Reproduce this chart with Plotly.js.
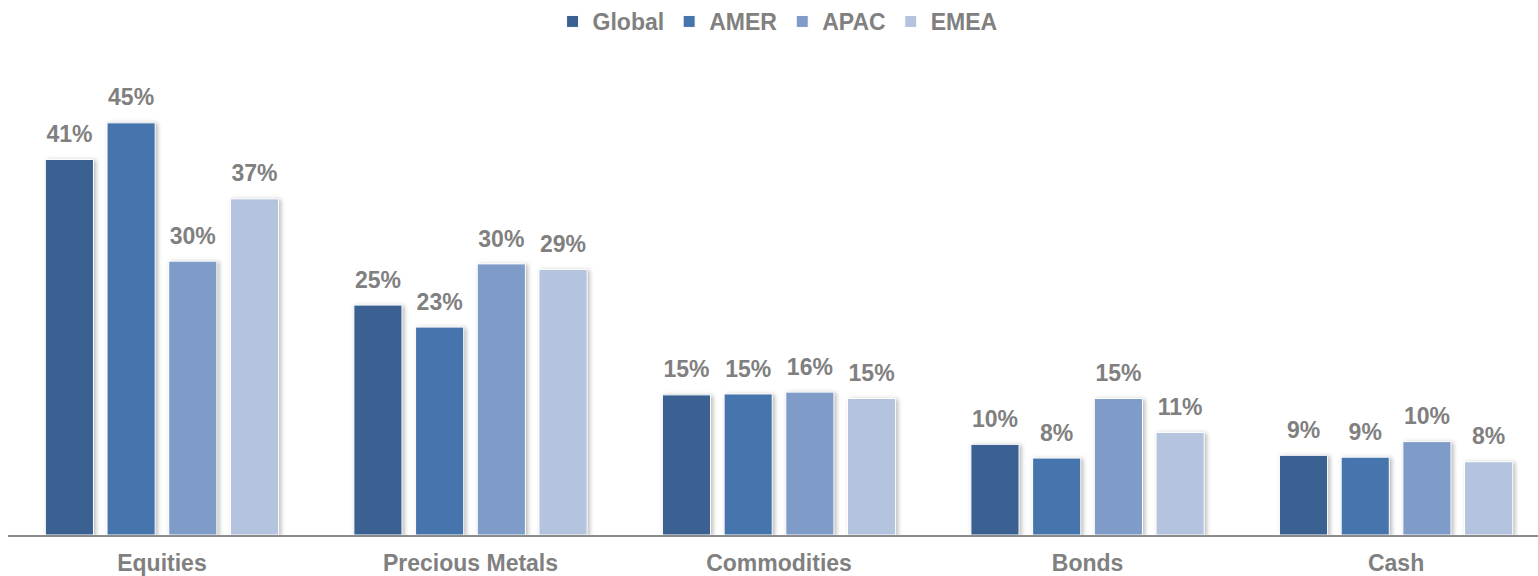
<!DOCTYPE html>
<html>
<head>
<meta charset="utf-8">
<script src="https://cdn.plot.ly/plotly-3.0.1.min.js"></script>
<style>
  html, body { margin: 0; padding: 0; background: #ffffff; }
  #chart { width: 1538px; height: 576px; }
  .barlayer .point path { filter: drop-shadow(2px 1px 2px rgba(0,0,0,0.28)); }
</style>
</head>
<body>
<div id="chart"></div>
<script>
// ---- data ----
const categories = ['Equities', 'Precious Metals', 'Commodities', 'Bonds', 'Cash'];
const seriesNames = ['Global', 'AMER', 'APAC', 'EMEA'];
const globalVals = [41.0, 25.1, 15.3, 9.9, 8.7];
const amerVals   = [45.0, 22.7, 15.4, 8.4, 8.5];
const apacVals   = [29.9, 29.6, 15.6, 14.9, 10.2];
const emeaVals   = [36.7, 29.0, 14.9, 11.2, 8.0];
const seriesValues = [globalVals, amerVals, apacVals, emeaVals];

// ---- style ----
const colors = ['#3a6192', '#4675ae', '#7f9cc8', '#b4c3de'];
const fontFamily = 'Liberation Sans, Arial, sans-serif';
const gray = '#808080';
const fsize = 23;

const traces = [];
seriesNames.forEach((name, i) => {
  traces.push({
    type: 'bar',
    name: name,
    x: categories,
    y: seriesValues[i],
    marker: { color: colors[i], line: { color: '#ffffff', width: 1 } },
    hoverinfo: 'x+y+name'
  });
});
seriesNames.forEach((name, i) => {
  traces.push({
    type: 'scatter',
    mode: 'markers+text',
    x: categories,
    y: seriesValues[i],
    text: seriesValues[i].map(v => Math.round(v) + '%'),
    textposition: 'top center',
    textfont: { family: fontFamily, size: fsize, color: gray, weight: 'bold' },
    marker: { size: 17, opacity: 0 },
    showlegend: false,
    hoverinfo: 'skip'
  });
});

const layout = {
  width: 1538,
  height: 576,
  margin: { l: 8, r: 0, t: 60, b: 41 },
  paper_bgcolor: '#ffffff',
  plot_bgcolor: '#ffffff',
  barmode: 'group',
  bargap: 0.2,
  bargroupgap: 0.22,
  scattermode: 'group',
  scattergap: 0.2,
  font: { family: fontFamily, size: fsize, color: gray, weight: 'bold' },
  showlegend: true,
  legend: {
    orientation: 'h',
    x: 0.503, xanchor: 'center',
    y: 1, yref: 'container', yanchor: 'top',
    font: { family: fontFamily, size: fsize, color: gray, weight: 'bold' },
    bgcolor: 'rgba(0,0,0,0)',
    itemclick: false
  },
  xaxis: {
    type: 'category',
    range: [-0.499, 4.46],
    showline: true,
    linecolor: '#8c8c8c',
    linewidth: 2,
    showgrid: false,
    zeroline: false,
    ticks: '',
    ticklabelstandoff: 6,
    tickfont: { family: fontFamily, size: fsize, color: gray, weight: 'bold' },
    fixedrange: true
  },
  yaxis: {
    range: [0, 51.86],
    visible: false,
    showgrid: false,
    zeroline: false,
    fixedrange: true
  }
};

Plotly.newPlot('chart', traces, layout, { displayModeBar: false, staticPlot: true });
</script>
</body>
</html>
